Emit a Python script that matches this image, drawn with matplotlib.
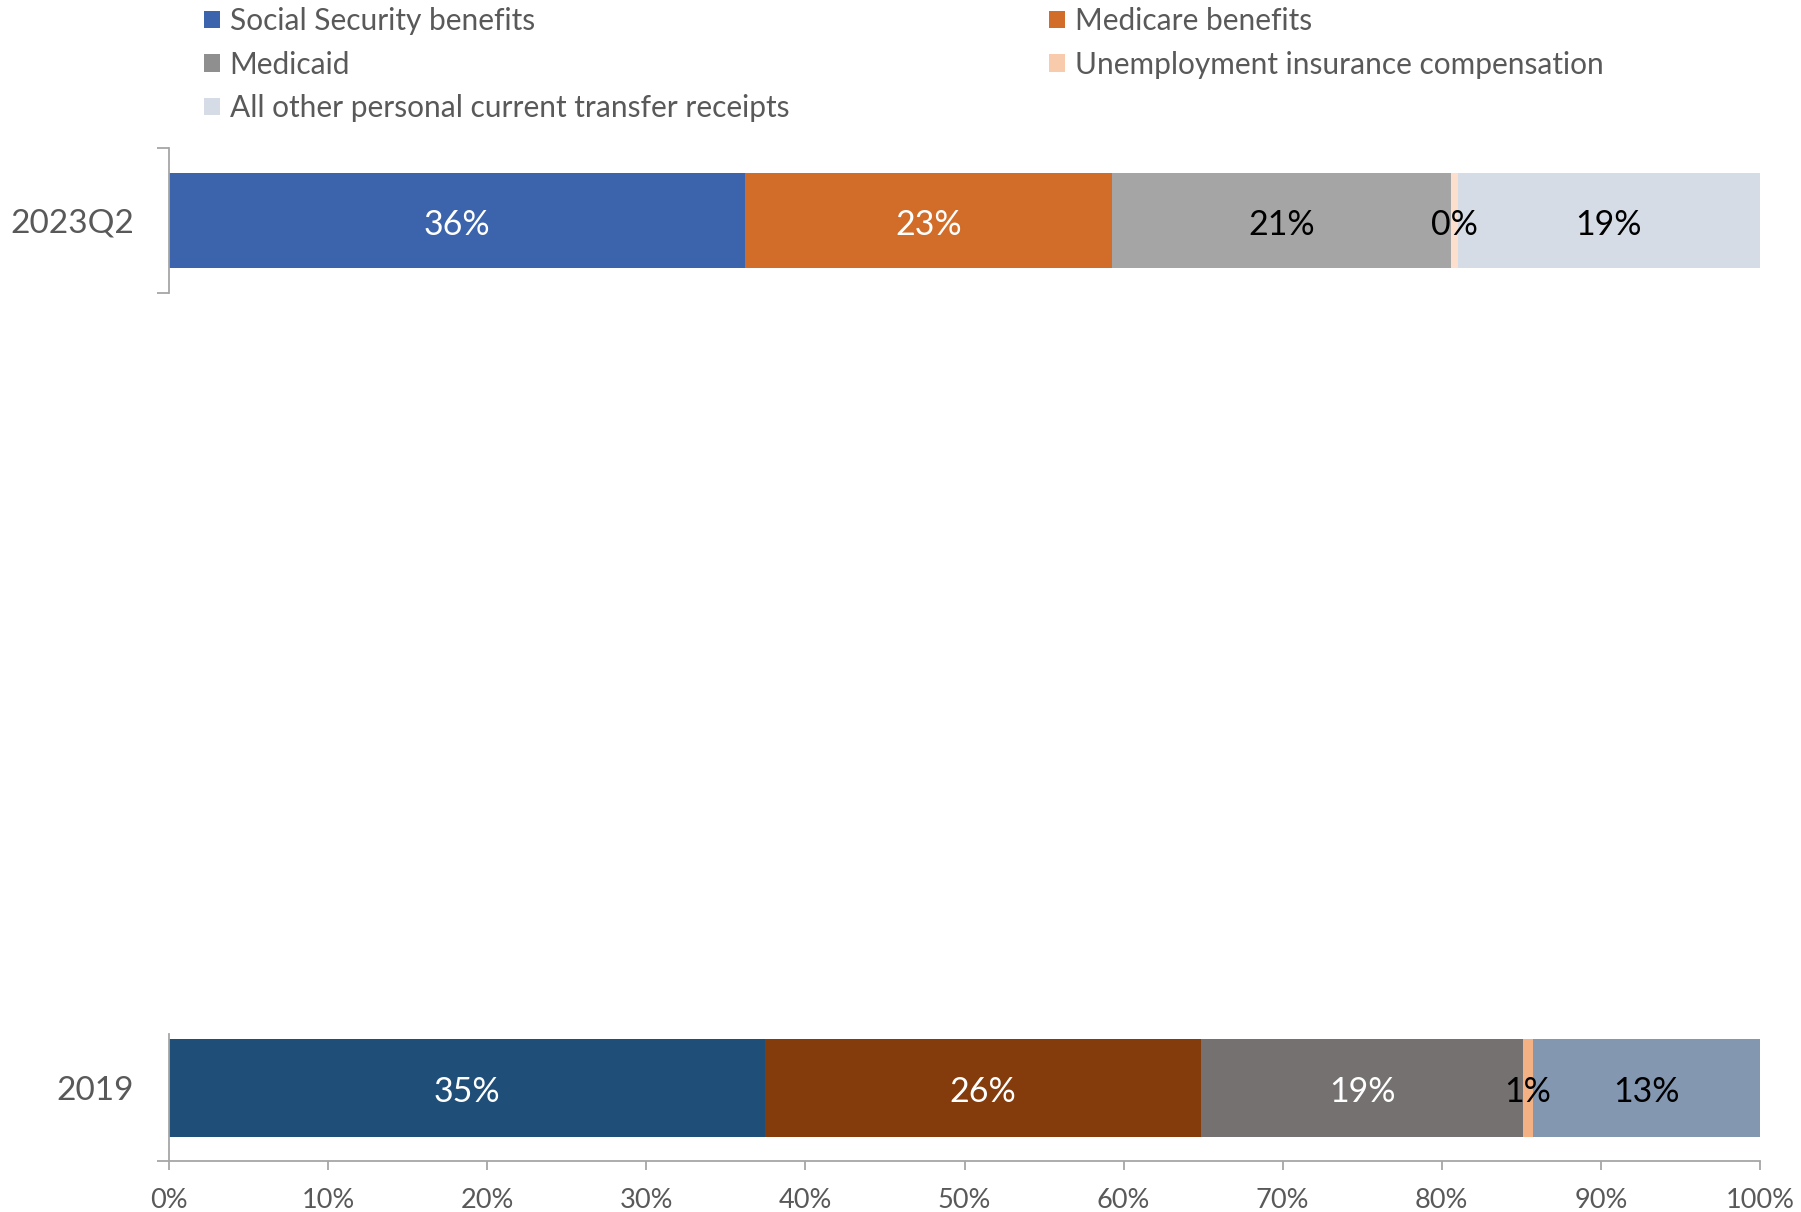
import matplotlib
matplotlib.use("Agg")
import matplotlib.pyplot as plt
from matplotlib.patches import Patch

plt.rcParams["font.family"] = ["Lato", "DejaVu Sans"]

categories = ["2019", "2023Q2"]
series = ["Social Security benefits", "Medicare benefits", "Medicaid",
          "Unemployment insurance compensation",
          "All other personal current transfer receipts"]
valores_2023 = [36.2, 23.1, 21.3, 0.4, 19.0]
valores_2019 = [35.2, 25.8, 19.0, 0.6, 13.4]

colores_2023 = ["#3C64AC", "#D26D29", "#A5A5A5", "#FCE0CD", "#D6DCE5"]
colores_2019 = ["#1F4E79", "#843C0C", "#757171", "#F4B183", "#8497B0"]
colores_leyenda = ["#3C64AC", "#D26D29", "#8F8F8F", "#F8CBAD", "#D6DCE5"]
texto_2023 = ["white", "white", "black", "black", "black"]
texto_2019 = ["white", "white", "white", "black", "black"]

gris = "#595959"
linea = "#A6A6A6"
h = 0.7

fig = plt.figure(figsize=(18.01, 12.12), dpi=100)
W, H = 1801, 1212
x0, x1 = 169, 1760


def dibujar_barra(ax, etiqueta, valores, colores, textos):
    total = sum(valores)
    izq = 0
    for v, c, tc in zip(valores, colores, textos):
        w = v / total * 100
        ax.barh(0, w, left=izq, height=h, color=c, edgecolor="none")
        ax.text(izq + w / 2, -0.03, f"{v:.0f}%", ha="center", va="center",
                fontsize=24.5, color=tc)
        izq += w
    ax.set_xlim(0, 100)
    ax.set_yticks([0])
    ax.set_yticklabels([etiqueta], fontsize=24, color=gris)
    ax.tick_params(axis="y", which="major", length=0, pad=25)
    for s in ["top", "right"]:
        ax.spines[s].set_visible(False)
    ax.spines["left"].set_color(linea)
    ax.spines["left"].set_linewidth(1.3)


# barra 2023Q2 (arriba)
ax_top = fig.add_axes([x0 / W, 1 - 293 / H, (x1 - x0) / W, 145 / H])
dibujar_barra(ax_top, categories[1], valores_2023, colores_2023, texto_2023)
lim = 72.5 / 95 * h
ax_top.set_ylim(-lim, lim)
ax_top.set_yticks([-lim, lim], minor=True)
ax_top.tick_params(axis="y", which="minor", length=8.6, width=1.3, color=linea)
ax_top.spines["bottom"].set_visible(False)
ax_top.set_xticks([])

# barra 2019 (abajo)
ax_bot = fig.add_axes([x0 / W, 1 - 1161 / H, (x1 - x0) / W, 127 / H])
dibujar_barra(ax_bot, categories[0], valores_2019, colores_2019, texto_2019)
y_abajo = -73 / 98 * h
ax_bot.set_ylim(y_abajo, 54 / 98 * h)
ax_bot.set_yticks([y_abajo], minor=True)
ax_bot.tick_params(axis="y", which="minor", length=8.6, width=1.3, color=linea)
ax_bot.spines["bottom"].set_color(linea)
ax_bot.spines["bottom"].set_linewidth(1.3)
ax_bot.set_xticks(range(0, 101, 10))
ax_bot.set_xticklabels([f"{t}%" for t in range(0, 101, 10)], fontsize=19.5, color=gris)
ax_bot.tick_params(axis="x", length=6.5, width=1.3, color=linea, pad=13)

orden = [0, 2, 4, 1, 3]
handles = [Patch(facecolor=colores_leyenda[i], edgecolor="none") for i in orden]
fig.legend(handles, [series[i] for i in orden], ncol=2, frameon=False,
           loc="upper left", bbox_to_anchor=(204 / W, 1 - 7 / H),
           fontsize=21.5, labelcolor=gris, handlelength=0.53, handleheight=0.53,
           handletextpad=0.33, labelspacing=0.52, columnspacing=8.7, borderpad=0,
           borderaxespad=0)

fig.savefig("out.png", dpi=100)
